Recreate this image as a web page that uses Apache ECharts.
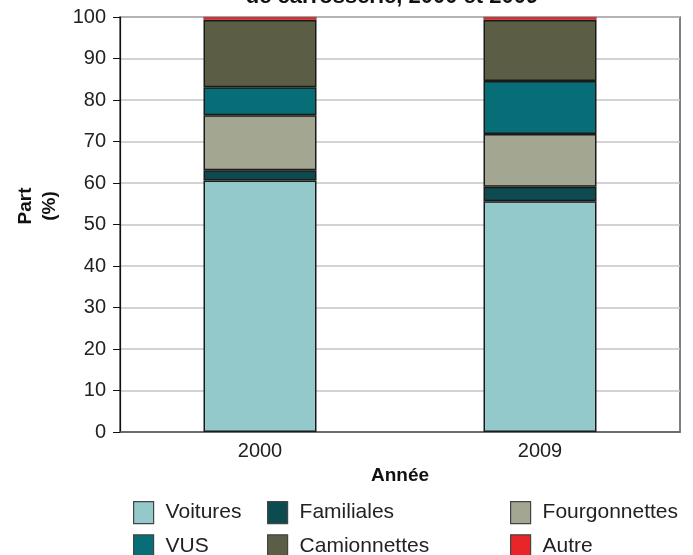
<!DOCTYPE html>
<html>
<head>
<meta charset="utf-8">
<script src="https://cdn.jsdelivr.net/npm/echarts@6/dist/echarts.min.js"></script>
<style>
  html, body { margin: 0; padding: 0; background: #fff; }
  #chart { width: 693px; height: 555px; }
</style>
</head>
<body>
<div id="chart"></div>
<script>
// --- Data ---
const years = ["2000", "2009"];
const voitures = [60.6, 55.6];
const familiales = [2.5, 3.5];
const fourgonnettes = [13.2, 12.7];
const vus = [6.8, 12.8];
const camionnettes = [16.2, 14.7];
const autre = [0.7, 0.7];
const yTicks = [0, 10, 20, 30, 40, 50, 60, 70, 80, 90, 100];

const FONT = "Liberation Sans, Arial, Helvetica, sans-serif";
const TXT = "#222";

function bar(name, data, color, bw) {
  return {
    name,
    type: "bar",
    stack: "total",
    data,
    barWidth: 113,
    itemStyle: { color, borderColor: "#1a1a1a", borderWidth: bw == null ? 1.5 : bw },
  };
}

const chart = echarts.init(document.getElementById("chart"), null, { renderer: "canvas" });

// three vertical legend columns, two rows each
const legendBase = {
  orient: "vertical",
  top: 501,
  height: 90,
  padding: 0,
  itemWidth: 20,
  itemHeight: 22,
  itemGap: 10,
  icon: "rect",
  selectedMode: false,
  textStyle: { fontFamily: FONT, fontSize: 21, color: TXT, padding: [0, 0, 0, 7] },
  itemStyle: { borderColor: "#444", borderWidth: 1.2 },
};

chart.setOption({
  animation: false,
  textStyle: { fontFamily: FONT },
  grid: {
    left: 120, right: 13, top: 17, bottom: 123,
    show: true, borderColor: "#555", borderWidth: 1.5,
  },
  legend: [
    Object.assign({}, legendBase, { left: 133, data: ["Voitures", "VUS"] }),
    Object.assign({}, legendBase, { left: 267, data: ["Familiales", "Camionnettes"] }),
    Object.assign({}, legendBase, { left: 510, data: ["Fourgonnettes", "Autre"] }),
  ],
  graphic: [
    {
      type: "text", x: 392, y: 8,
      style: {
        text: "de carrosserie, 2000 et 2009",
        font: "bold 22px " + FONT, fill: "#111",
        textAlign: "center", textVerticalAlign: "bottom",
      },
    },
    {
      type: "text", x: 38, y: 206, rotation: Math.PI / 2,
      style: {
        text: "Part\n(%)",
        font: "bold 19px " + FONT, fill: "#111",
        textAlign: "center", textVerticalAlign: "middle", lineHeight: 24,
      },
    },
  ],
  xAxis: {
    type: "category",
    data: years,
    name: "Année",
    nameLocation: "middle",
    nameGap: 27,
    nameTextStyle: { fontFamily: FONT, fontSize: 19, fontWeight: "bold", color: "#111" },
    axisLine: { lineStyle: { color: "#555", width: 1.5 } },
    axisTick: { show: false },
    axisLabel: { fontFamily: FONT, fontSize: 20, color: TXT, margin: 9 },
  },
  yAxis: {
    type: "value",
    min: yTicks[0],
    max: yTicks[yTicks.length - 1],
    interval: 10,
    axisLine: { show: true, lineStyle: { color: "#111", width: 1.2 } },
    axisTick: { show: true, length: 7, lineStyle: { color: "#111" } },
    axisLabel: { fontFamily: FONT, fontSize: 20, color: TXT, margin: 14 },
    splitLine: { lineStyle: { color: "#c4c4c4", width: 1.5 } },
  },
  series: [
    bar("Voitures", voitures, "#93c9ca"),
    bar("Familiales", familiales, "#0d4b50"),
    bar("Fourgonnettes", fourgonnettes, "#a3a690"),
    bar("VUS", vus, "#076e77"),
    bar("Camionnettes", camionnettes, "#5b5e45"),
    bar("Autre", autre, "#e8262a", 0.3),
  ],
});
</script>
</body>
</html>
